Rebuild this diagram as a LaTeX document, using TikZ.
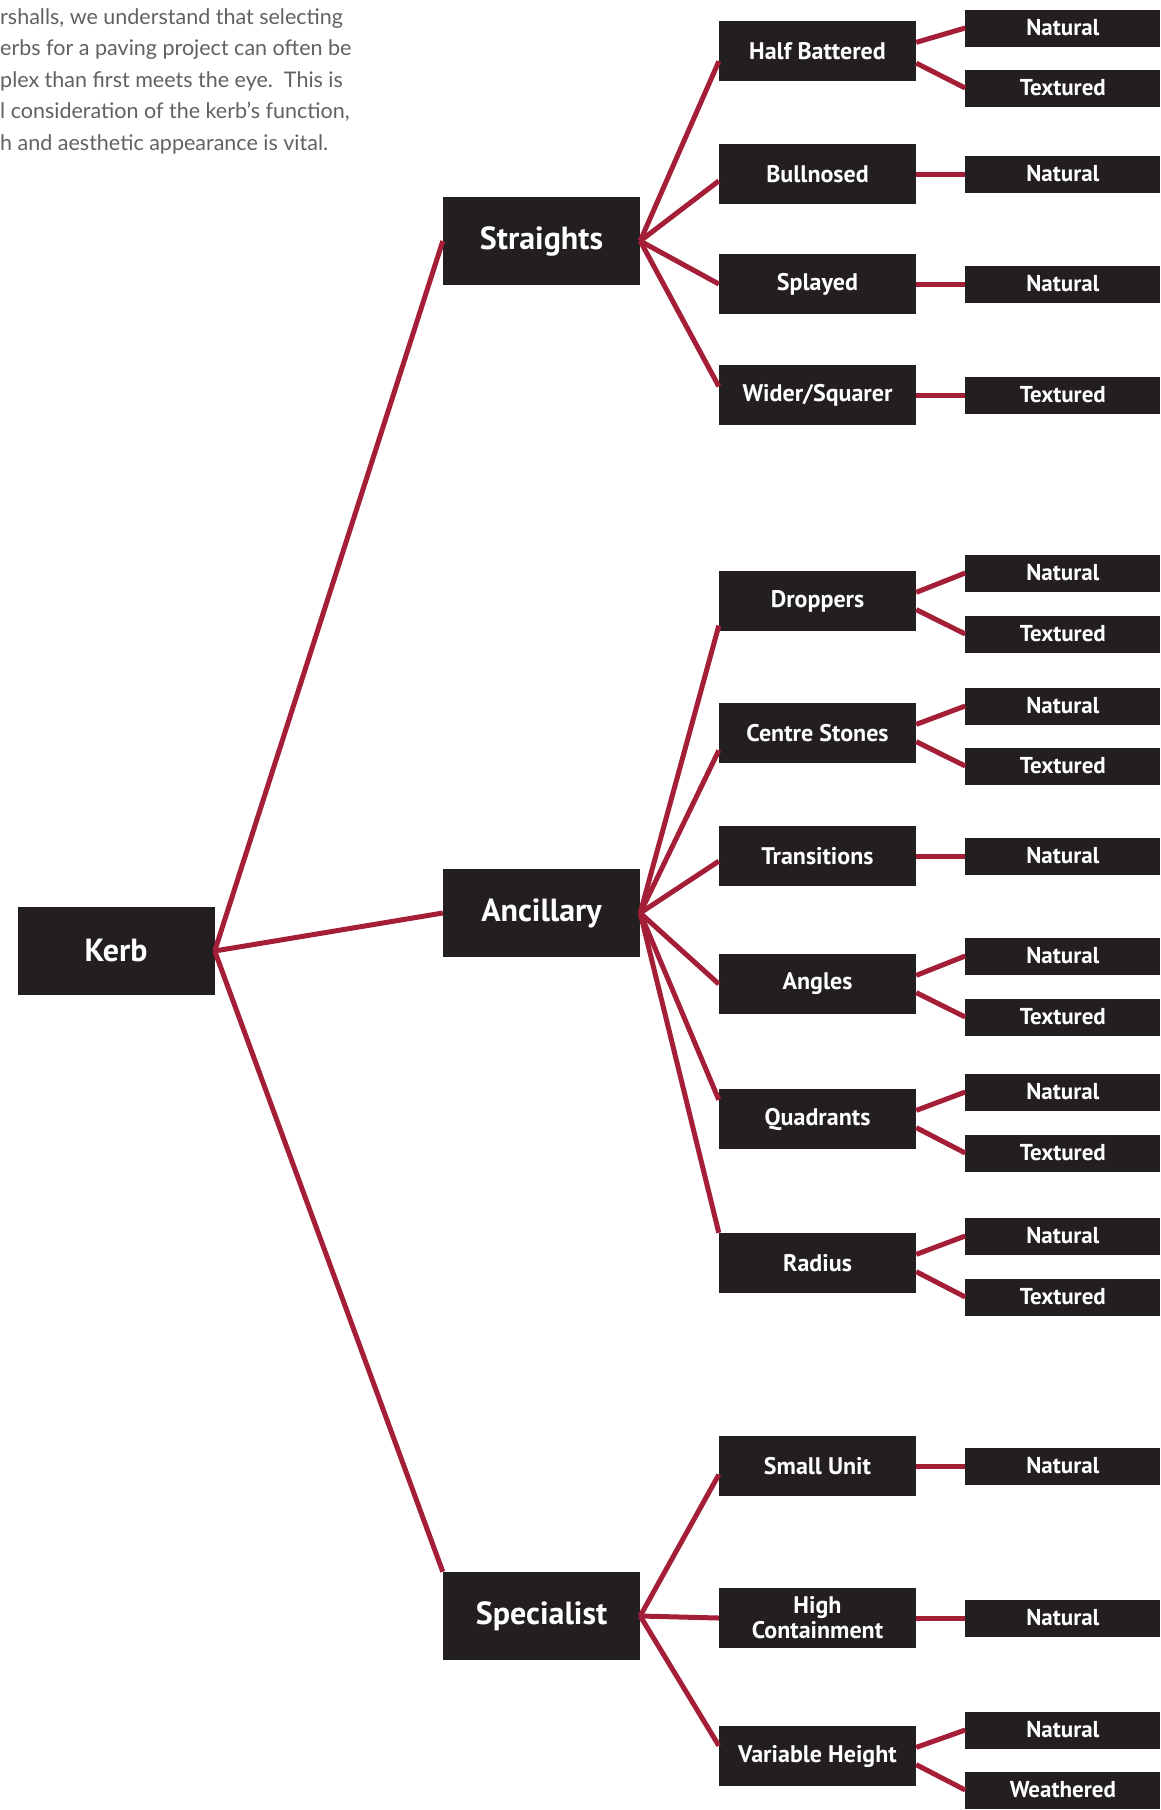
\documentclass[tikz,border=0pt]{standalone}
\usepackage{fontspec}
\setmainfont{PT Sans}
\newfontfamily\introfont{Lato}
\usetikzlibrary{positioning}

\definecolor{kerbred}{HTML}{A51E37}
\definecolor{boxblack}{HTML}{231F20}
\definecolor{introgrey}{HTML}{606164}

\tikzset{
  box/.style={fill=boxblack, text=white, inner sep=0pt, align=center},
  main/.style={box, minimum width=197pt, minimum height=88pt, font=\fontsize{32}{36}\selectfont\bfseries},
  kind/.style={box, minimum width=197pt, minimum height=60pt, font=\fontsize{24}{25}\selectfont\bfseries},
  finish/.style={box, minimum width=195pt, minimum height=37pt, font=\fontsize{23}{25}\selectfont\bfseries},
  link/.style={draw=kerbred, line width=5pt},
}

\begin{document}
\begin{tikzpicture}[x=1pt, y=-1pt]
  \useasboundingbox (0,0) rectangle (1161,1810);

  % Intro text
  \node[anchor=north west, align=left, inner sep=0pt, text=introgrey,
        font=\introfont\fontsize{21.5}{31.6}\selectfont] (intro) at (0,8)
    {rshalls, we understand that selecting\\
     erbs for a paving project can often be\\
     plex than first meets the eye.\ \ This is\\
     l consideration of the kerb’s function,\\
     h and aesthetic appearance is vital.};

  % Define nodes
  \node[main] (kerb) at (116,951)   {Kerb};
  \node[main] (str)  at (541.5,241)  {Straights};
  \node[main] (anc)  at (541.5,913)  {Ancillary};
  \node[main] (spc)  at (541.5,1616) {Specialist};

  \node[kind] (hb)  at (817.5,51)   {Half Battered};
  \node[kind] (bn)  at (817.5,174)  {Bullnosed};
  \node[kind] (spl) at (817.5,284)  {Splayed};
  \node[kind] (wsq) at (817.5,395)  {Wider/Squarer};
  \node[kind] (drp) at (817.5,601)  {Droppers};
  \node[kind] (cst) at (817.5,733)  {Centre Stones};
  \node[kind] (trn) at (817.5,856)  {Transitions};
  \node[kind] (ang) at (817.5,984)  {Angles};
  \node[kind] (qdr) at (817.5,1119) {Quadrants};
  \node[kind] (rad) at (817.5,1263) {Radius};
  \node[kind] (smu) at (817.5,1466) {Small Unit};
  \node[kind] (hic) at (817.5,1618) {High\\Containment};
  \node[kind] (vrh) at (817.5,1756) {Variable Height};

  \node[finish, right=49pt of hb, yshift=23pt]   (hbn)  {Natural};
  \node[finish, right=49pt of hb, yshift=-37pt]  (hbt)  {Textured};
  \node[finish, right=49pt of bn]                (bnn)  {Natural};
  \node[finish, right=49pt of spl]               (spln) {Natural};
  \node[finish, right=49pt of wsq]               (wsqt) {Textured};
  \node[finish, right=49pt of drp, yshift=28pt]  (drpn) {Natural};
  \node[finish, right=49pt of drp, yshift=-33pt] (drpt) {Textured};
  \node[finish, right=49pt of cst, yshift=27pt]  (cstn) {Natural};
  \node[finish, right=49pt of cst, yshift=-33pt] (cstt) {Textured};
  \node[finish, right=49pt of trn]               (trnn) {Natural};
  \node[finish, right=49pt of ang, yshift=28pt]  (angn) {Natural};
  \node[finish, right=49pt of ang, yshift=-33pt] (angt) {Textured};
  \node[finish, right=49pt of qdr, yshift=27pt]  (qdrn) {Natural};
  \node[finish, right=49pt of qdr, yshift=-34pt] (qdrt) {Textured};
  \node[finish, right=49pt of rad, yshift=27pt]  (radn) {Natural};
  \node[finish, right=49pt of rad, yshift=-34pt] (radt) {Textured};
  \node[finish, right=49pt of smu]               (smun) {Natural};
  \node[finish, right=49pt of hic]               (hicn) {Natural};
  \node[finish, right=49pt of vrh, yshift=26pt]  (vrhn) {Natural};
  \node[finish, right=49pt of vrh, yshift=-34pt] (vrhw) {Weathered};

  % Connect the nodes
  \draw[link] (kerb.east) -- (str.west);
  \draw[link] (kerb.east) -- (anc.west);
  \draw[link] (kerb.east) -- (spc.north west);

  \draw[link] (str.east) -- (hb.186);
  \draw[link] (str.east) -- (bn.184);
  \draw[link] (str.east) -- (spl.west);
  \draw[link] (str.east) -- (wsq.175);

  \draw[link] (anc.east) -- (drp.194);
  \draw[link] (anc.east) -- (cst.190);
  \draw[link] (anc.east) -- (trn.183);
  \draw[link] (anc.east) -- (ang.west);
  \draw[link] (anc.east) -- (qdr.169);
  \draw[link] (anc.east) -- (rad.north west);

  \draw[link] (spc.east) -- (smu.185);
  \draw[link] (spc.east) -- (hic.west);
  \draw[link] (spc.east) -- (vrh.174);

  \draw[link] (hb.5) -- (hbn.west);
  \draw[link] (hb.-7) -- (hbt.west);
  \draw[link] (bn.east) -- (bnn.west);
  \draw[link] (spl.east) -- (spln.west);
  \draw[link] (wsq.east) -- (wsqt.west);
  \draw[link] (drp.5) -- (drpn.west);
  \draw[link] (drp.-5) -- (drpt.west);
  \draw[link] (cst.5) -- (cstn.west);
  \draw[link] (cst.-5) -- (cstt.west);
  \draw[link] (trn.east) -- (trnn.west);
  \draw[link] (ang.5) -- (angn.west);
  \draw[link] (ang.-5) -- (angt.west);
  \draw[link] (qdr.5) -- (qdrn.west);
  \draw[link] (qdr.-5) -- (qdrt.west);
  \draw[link] (rad.5) -- (radn.west);
  \draw[link] (rad.-5) -- (radt.west);
  \draw[link] (smu.east) -- (smun.west);
  \draw[link] (hic.east) -- (hicn.west);
  \draw[link] (vrh.5) -- (vrhn.west);
  \draw[link] (vrh.-5) -- (vrhw.west);

\end{tikzpicture}
\end{document}
